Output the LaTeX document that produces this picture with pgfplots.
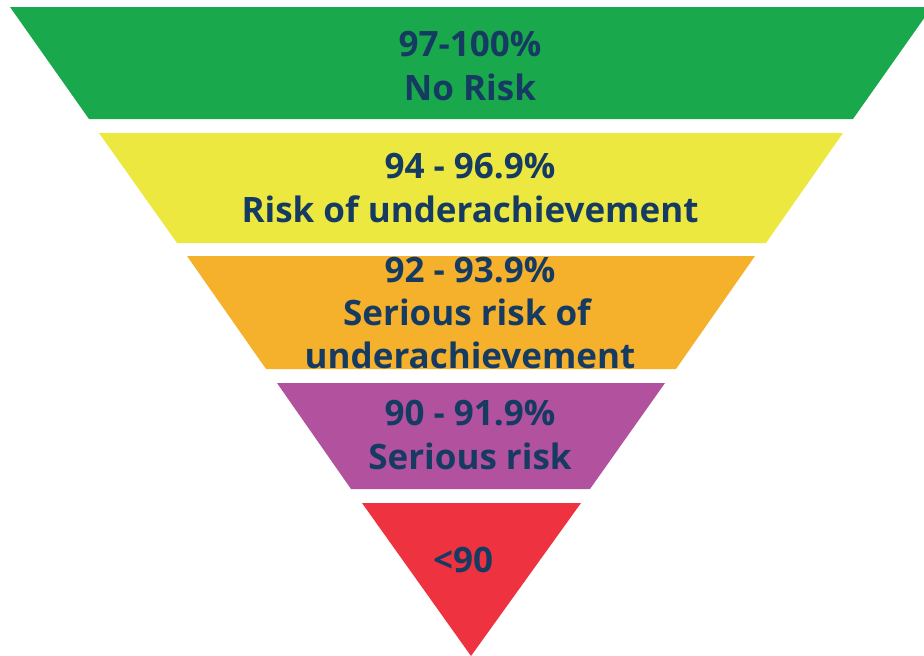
\documentclass[border=0pt]{standalone}
\usepackage{pgfplots}
\pgfplotsset{compat=1.18}
\usepackage{fontspec}
\setmainfont{Open Sans}
\definecolor{cgreen}{HTML}{19A84B}
\definecolor{cyellow}{HTML}{EDE840}
\definecolor{corange}{HTML}{F5B02C}
\definecolor{cpurple}{HTML}{B2519E}
\definecolor{cred}{HTML}{EF3240}
\definecolor{ctext}{HTML}{163B63}
\begin{document}
\begin{tikzpicture}
\begin{axis}[
  width=924pt, height=656pt, scale only axis,
  xmin=0, xmax=924, ymin=0, ymax=656, y dir=reverse,
  hide axis, clip=true,
]
% level shapes (pixel coordinates of the reference)
\addplot[fill=cgreen, draw=none] coordinates {(10,7) (932,7) (853,119) (89,119)} -- cycle;
\addplot[fill=cyellow, draw=none] coordinates {(99,133) (843,133) (766,243) (177,243)} -- cycle;
\addplot[fill=corange, draw=none] coordinates {(187,256) (755,256) (676,369) (266,369)} -- cycle;
\addplot[fill=cpurple, draw=none] coordinates {(277,383) (665,383) (590,489) (351,489)} -- cycle;
\addplot[fill=cred, draw=none] coordinates {(362,503) (581,503) (471,656)} -- cycle;
\path (rel axis cs:0,0) rectangle (rel axis cs:1,1);
\begin{scope}[every node/.style={anchor=base, text=ctext, font=\fontsize{35}{42}\selectfont\bfseries, inner sep=0pt}]
\node at (axis cs:470,56) {97-100\%};
\node at (axis cs:470,100) {No Risk};
\node at (axis cs:470,178) {94 - 96.9\%};
\node at (axis cs:470,222) {Risk of underachievement};
\node at (axis cs:470,282) {92 - 93.9\%};
\node at (axis cs:467,325) {Serious risk of};
\node at (axis cs:470,368) {underachievement};
\node at (axis cs:470,425) {90 - 91.9\%};
\node at (axis cs:470,469) {Serious risk};
\node at (axis cs:463,572) {<90};
\end{scope}
\end{axis}
\end{tikzpicture}
\end{document}
